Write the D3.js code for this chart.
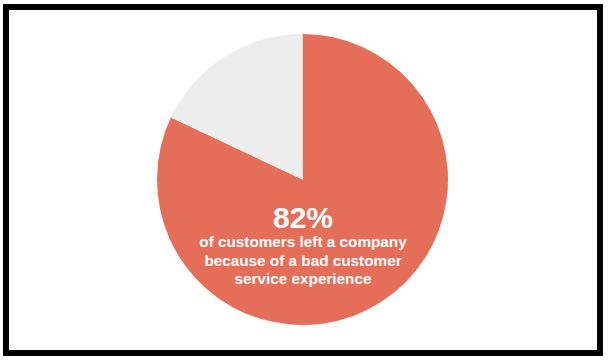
<!DOCTYPE html>
<html>
<head>
<meta charset="utf-8">
<script src="https://cdn.jsdelivr.net/npm/d3@7"></script>
<style>
html, body { margin: 0; padding: 0; background: #fff; }
svg { display: block; }
</style>
</head>
<body>
<svg id="chart" width="611" height="360"></svg>
<script>
const categories = ["Left due to bad service", "Other"];
const values = [82, 18];
const colors = ["#E56E59", "#EDEDED"];
const headline = "82%";
const captionLines = ["of customers left a company", "because of a bad customer", "service experience"];

const svg = d3.select("#chart");
const W = 611, H = 360;

svg.append("rect").attr("x", 0).attr("y", 0).attr("width", W).attr("height", H).attr("fill", "#fff");
svg.append("rect").attr("x", 6).attr("y", 7).attr("width", 594).attr("height", 346)
  .attr("fill", "none").attr("stroke", "#000").attr("stroke-width", 6);

const cx = 302.5, cy = 179.5, r = 145.5;
const pie = d3.pie().sort(null).value(d => d)(values);
const arc = d3.arc().innerRadius(0).outerRadius(r);
const color = d3.scaleOrdinal().domain(categories).range(colors);

const g = svg.append("g").attr("transform", `translate(${cx},${cy})`);
g.selectAll("path").data(pie).join("path")
  .attr("d", arc)
  .attr("fill", (d, i) => color(categories[i]));

const tg = svg.append("g").attr("font-family", "Liberation Sans, Arial, Helvetica, sans-serif")
  .attr("font-weight", "bold").attr("fill", "#fff").attr("text-anchor", "middle");
tg.append("text").attr("x", cx + 0.5).attr("y", 228).attr("font-size", 30).text(headline);
tg.selectAll("text.cap").data(captionLines).join("text").attr("class", "cap")
  .attr("x", cx + 0.5).attr("y", (d, i) => 247 + i * 18.5).attr("font-size", 15.3).text(d => d);
</script>
</body>
</html>
